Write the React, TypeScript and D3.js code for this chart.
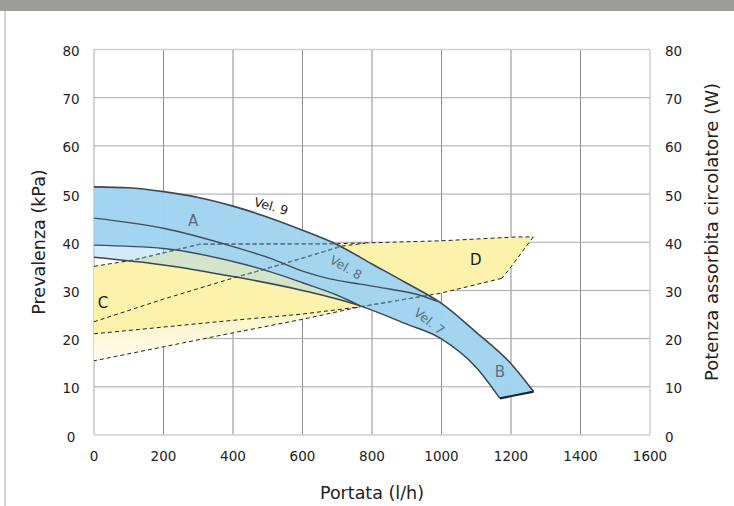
import React from "react";
import * as d3 from "d3";

const xTicks = [0, 200, 400, 600, 800, 1000, 1200, 1400, 1600];
const yTicks = [0, 10, 20, 30, 40, 50, 60, 70, 80];

// head curves (kPa vs l/h)
const vel9Head: [number, number][] = [[0, 51.5], [100, 51.3], [200, 50.5], [300, 49.3], [400, 47.5], [500, 45.2], [600, 42.5], [700, 39.5], [800, 35.5], [900, 31.5], [1000, 27.3], [1100, 21.3], [1200, 14.8], [1265, 9]];
const vel8Head: [number, number][] = [[0, 45], [200, 42.9], [400, 39.1], [506, 36.7], [600, 34.0], [679, 32.4], [766, 31.3], [850, 30.3], [938, 29], [990, 27.7]];
const vel7Head: [number, number][] = [[0, 39.4], [200, 38.7], [400, 36], [506, 33.9], [600, 31.6], [700, 29.0], [766, 26.8]];
const minHead: [number, number][] = [[0, 36.9], [200, 35.3], [400, 32.9], [600, 30.0], [766, 26.8], [900, 23], [996, 20.1], [1100, 14], [1168, 7.6]];
const endB: [number, number][] = [[1168, 7.6], [1265, 9]];

// power curves (W vs l/h) - dashed
const powerTop: [number, number][] = [[0, 35], [113, 36.3], [305, 39.6], [700, 39.7], [1000, 40.3], [1216, 41.1], [1264, 41.1]];
const powerEdge: [number, number][] = [[1264, 41.1], [1197, 34.6], [1173, 32.5]];
const powerLow: [number, number][] = [[1173, 32.5], [996, 29.4], [766, 26.6], [600, 24.0], [400, 21.2], [200, 18.3], [0, 15.4]];
const powerMid: [number, number][] = [[0, 21], [200, 22.4], [400, 23.8], [600, 25.1], [766, 26.6]];
const powerSteep: [number, number][] = [[0, 23.5], [200, 28.2], [411, 32.8], [500, 34.6], [600, 36.7], [713, 39.2], [780, 39.8]];

const regionLabels = [
  { t: "A", x: 285, y: 44.4 },
  { t: "B", x: 1168, y: 13.1 },
  { t: "C", x: 26, y: 27.4 },
  { t: "D", x: 1099, y: 36.3 },
];
const velLabels = [
  { t: "Vel. 9", x: 510, y: 47.5, rot: 16, dark: true },
  { t: "Vel. 8", x: 725, y: 34.8, rot: 30, dark: false },
  { t: "Vel. 7", x: 965, y: 23.6, rot: 38, dark: false },
];

const W = 734, H = 506;
const X0 = 94, X1 = 650, Y0 = 435, Y1 = 49.5;

export default function App() {
  const x = d3.scaleLinear().domain([0, 1600]).range([X0, X1]);
  const y = d3.scaleLinear().domain([0, 80]).range([Y0, Y1]);
  const line = d3.line<[number, number]>().x((d) => x(d[0])).y((d) => y(d[1])).curve(d3.curveMonotoneX);
  const lineL = d3.line<[number, number]>().x((d) => x(d[0])).y((d) => y(d[1])).curve(d3.curveLinear);

  const rev = (a: [number, number][]) => a.slice().reverse();
  const pathOf = (arr: [number, number][], mono = true) => (mono ? line(arr) : lineL(arr)) || "";
  const cont = (arr: [number, number][], mono = true) => pathOf(arr, mono).replace(/^M/, "L");

  const yellowDeep = pathOf(powerTop, false) + cont(powerEdge, false) + cont(powerLow.slice(0, 3), false) + cont(rev(powerMid), false) + "Z";
  const yellowPale = pathOf(powerMid, false) + cont(powerLow.slice(2), false) + "Z";
  const bandFull = pathOf(vel9Head) + cont(rev(endB), false) + cont(rev(minHead)) + "Z";
  const bandUpper = pathOf(vel9Head) + cont(rev(endB), false) + cont(rev(minHead.filter((d) => d[0] >= 766))) + cont(rev(vel7Head)) + "Z";

  const dashed = [powerTop, powerEdge, powerLow, powerMid, powerSteep];
  const font = "'DejaVu Sans', sans-serif";

  return (
    <div style={{ position: "fixed", left: 0, top: 0 }}>
      <svg width={W} height={H} style={{ display: "block", background: "#fff" }}>
        <defs>
          <clipPath id="band">
            <path d={bandFull} />
          </clipPath>
          <linearGradient id="pale" x1="0" y1="0" x2="0" y2="1">
            <stop offset="0" stopColor="#fdf3c2" />
            <stop offset="1" stopColor="#fffcee" />
          </linearGradient>
        </defs>
        <rect x={0} y={0} width={W} height={11} fill="#9d9d9b" />
        <line x1={5} x2={5} y1={11} y2={H} stroke="#d4d4d4" strokeWidth={2} />

        {/* grid */}
        {xTicks.slice(1, -1).map((t) => (
          <line key={"gx" + t} x1={x(t)} x2={x(t)} y1={Y1} y2={Y0} stroke="#8c8c8c" strokeWidth={1} />
        ))}
        {yTicks.slice(1, -1).map((t) => (
          <line key={"gy" + t} x1={X0} x2={X1} y1={y(t)} y2={y(t)} stroke="#a6a6a6" strokeWidth={1} />
        ))}
        <line x1={X0} x2={X1} y1={Y1} y2={Y1} stroke="#cfcfcf" strokeWidth={1.5} />
        <line x1={X1} x2={X1} y1={Y1} y2={Y0} stroke="#cfcfcf" strokeWidth={1.5} />
        <line x1={X0} x2={X0} y1={Y1} y2={Y0} stroke="#a8a8a8" strokeWidth={1} />
        <line x1={X0} x2={X1} y1={Y0} y2={Y0} stroke="#cfcfcf" strokeWidth={1.5} />

        {/* power areas */}
        <path d={yellowPale} fill="url(#pale)" />
        <path d={yellowDeep} fill="#fdf2ab" />

        {/* head band */}
        <path d={bandFull} fill="#9fd3f0" fillOpacity={0.45} />
        <path d={bandUpper} fill="#a0d4f0" fillOpacity={0.95} />

        {/* dashed power lines */}
        {dashed.map((d, i) => (
          <path key={"d" + i} d={pathOf(d, false)} fill="none" stroke="#222" strokeWidth={1} strokeDasharray="4 3" />
        ))}
        <g clipPath="url(#band)">
          {dashed.map((d, i) => (
            <path key={"dc" + i} d={pathOf(d, false)} fill="none" stroke="#5f7f95" strokeWidth={1.3} strokeDasharray="4 3" />
          ))}
        </g>

        {/* head lines */}
        <path d={pathOf(vel9Head)} fill="none" stroke="#3b4852" strokeWidth={1.6} />
        <path d={pathOf(vel8Head)} fill="none" stroke="#3d4f5c" strokeWidth={1.4} />
        <path d={pathOf(vel7Head)} fill="none" stroke="#3d4f5c" strokeWidth={1.4} />
        <path d={pathOf(minHead)} fill="none" stroke="#3b4852" strokeWidth={1.5} />
        <path d={pathOf(endB, false)} fill="none" stroke="#222" strokeWidth={2.2} />

        {/* labels */}
        {regionLabels.map((l) => (
          <text key={l.t} x={x(l.x)} y={y(l.y)} textAnchor="middle" dominantBaseline="central" fontFamily={font} fontSize={15} fill={l.t === "A" || l.t === "B" ? "#55707f" : "#1a1a1a"}>
            {l.t}
          </text>
        ))}
        {velLabels.map((l) => (
          <text key={l.t} transform={`translate(${x(l.x)},${y(l.y)}) rotate(${l.rot})`} textAnchor="middle" dominantBaseline="central" fontFamily={font} fontSize={12.5} fill={l.dark ? "#1a1a1a" : "#56707f"}>
            {l.t}
          </text>
        ))}

        {/* axes labels */}
        {xTicks.map((t) => (
          <text key={"xt" + t} x={x(t)} y={Y0 + 21} textAnchor="middle" dominantBaseline="central" fontFamily={font} fontSize={13.5} fill="#222">
            {t}
          </text>
        ))}
        {yTicks.map((t) => (
          <text key={"yl" + t} x={71} y={y(t) + 1.5} textAnchor="middle" dominantBaseline="central" fontFamily={font} fontSize={13.5} fill="#222">
            {t}
          </text>
        ))}
        {yTicks.map((t) => (
          <text key={"yr" + t} x={665} y={y(t) + 1.5} textAnchor="start" dominantBaseline="central" fontFamily={font} fontSize={13.5} fill="#222">
            {t}
          </text>
        ))}
        <text x={(X0 + X1) / 2} y={493} textAnchor="middle" dominantBaseline="central" fontFamily={font} fontSize={17.5} fill="#222">
          Portata (l/h)
        </text>
        <text transform={`translate(39,242) rotate(-90)`} textAnchor="middle" dominantBaseline="central" fontFamily={font} fontSize={17.5} fill="#222">
          Prevalenza (kPa)
        </text>
        <text transform={`translate(711,232) rotate(-90)`} textAnchor="middle" dominantBaseline="central" fontFamily={font} fontSize={18} fill="#222">
          Potenza assorbita circolatore (W)
        </text>
      </svg>
    </div>
  );
}
